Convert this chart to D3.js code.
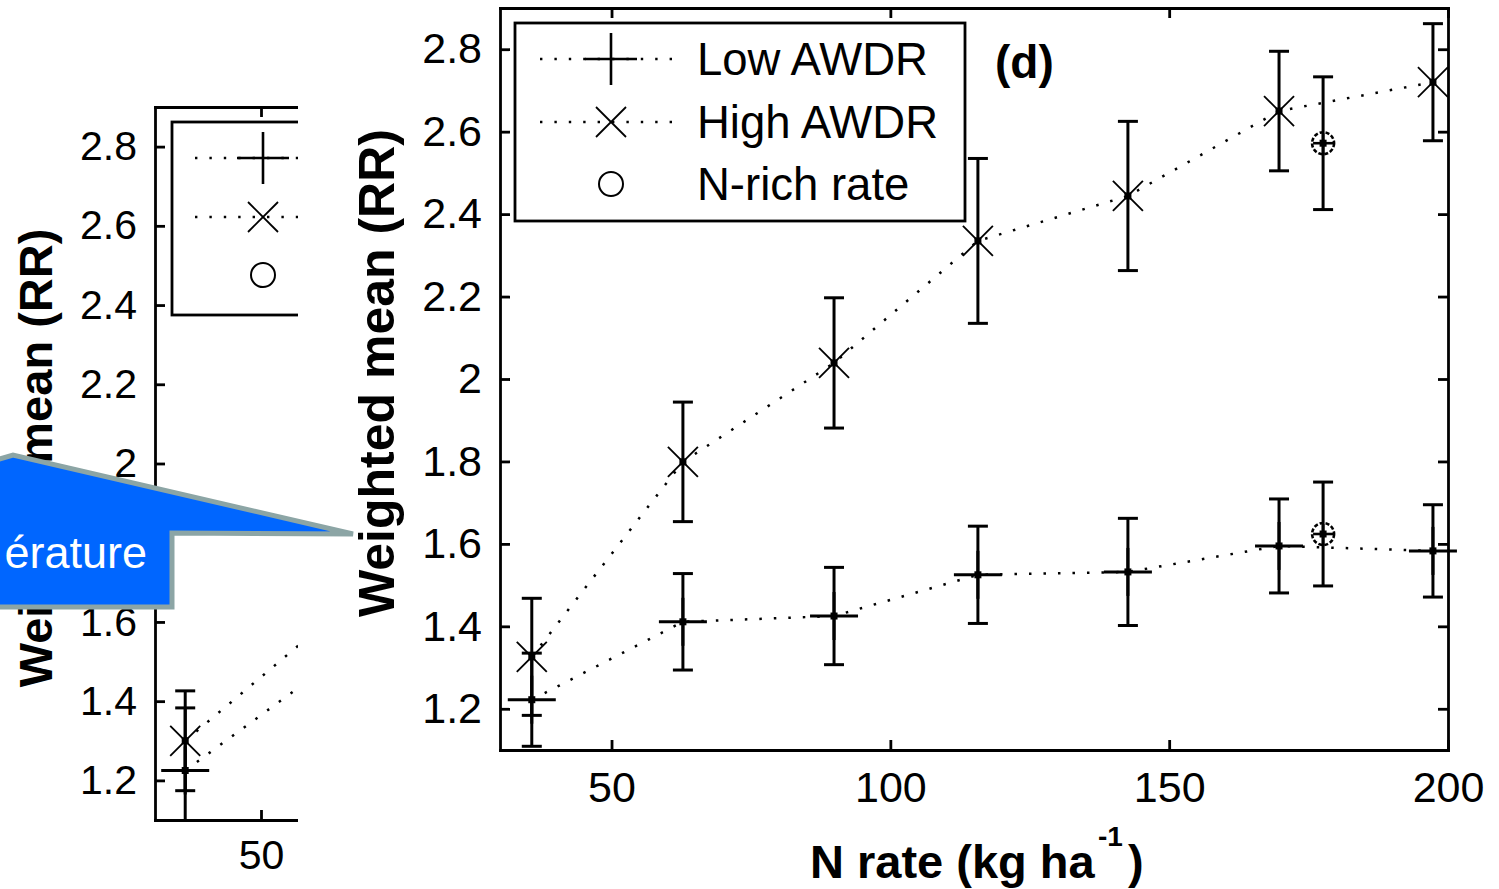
<!DOCTYPE html>
<html>
<head>
<meta charset="utf-8">
<script src="https://cdn.jsdelivr.net/npm/d3@7"></script>
<style>
  body { margin: 0; background: #fff; }
  svg { display: block; }
  text { font-family: "Liberation Sans", Arial, sans-serif; }
</style>
</head>
<body>
<div id="chart"></div>
<script>
// N rates (kg ha-1) of the connected points
const nRates = [35.7, 62.8, 89.9, 115.7, 142.6, 169.7, 197.3];

// panel (d)
const lowMean  = [1.222, 1.411, 1.425, 1.525, 1.532, 1.595, 1.583];
const lowErr   = [0.113, 0.117, 0.118, 0.118, 0.130, 0.114, 0.112];
const highMean = [1.326, 1.799, 2.039, 2.335, 2.444, 2.650, 2.720];
const highErr  = [0.142, 0.145, 0.158, 0.200, 0.181, 0.145, 0.142];

// N-rich rate point
const richRate = 177.6;
const richLowMean = 1.624, richLowErr = 0.126;
const richHighMean = 2.572, richHighErr = 0.161;

// the cropped panel on the left (only the start is visible)
const leftRates = [35.7, 62.8];
const leftLowMean  = [1.225, 1.490];
const leftLowErr   = [0.158, 0.120];
const leftHighMean = [1.300, 1.605];
const leftHighErr  = [0.126, 0.130];

const xTicks = [50, 100, 150, 200];
const yTicks = [1.2, 1.4, 1.6, 1.8, 2.0, 2.2, 2.4, 2.6, 2.8];
const legendLabels = ['Low AWDR', 'High AWDR', 'N-rich rate'];

const W = 1499, H = 889;
const svg = d3.select('#chart').append('svg')
  .attr('width', W)
  .attr('height', H);

svg.append('rect').attr('width', W).attr('height', H).attr('fill', '#fff');

const zip = (n, m, e) => n.map((v, i) => ({ n: v, v: m[i], e: e[i] }));
let clipCount = 0;

function drawPanel(root, cfg) {
  const x = d3.scaleLinear().domain([30, 200]).range([cfg.left, cfg.right]);
  const y = d3.scaleLinear().domain([1.1, 2.9]).range([cfg.bottom, cfg.top]);
  const g = root.append('g');
  const fmt = d => (cfg.hideY || []).includes(d) ? '' : String(+d.toFixed(1));
  // only the x ticks inside the visible part of the panel
  const xt = xTicks.filter(d => x(d) <= (cfg.maxX || Infinity));

  // box with inward ticks on all four sides
  g.append('g')
    .attr('transform', `translate(0, ${cfg.bottom})`)
    .call(d3.axisBottom(x).tickValues(xt).tickSizeInner(-10).tickSizeOuter(0)
      .tickPadding(cfg.xPad).tickFormat(d3.format('d')));
  g.append('g')
    .attr('transform', `translate(0, ${cfg.top})`)
    .call(d3.axisTop(x).tickValues(xt).tickSizeInner(-10).tickSizeOuter(0).tickFormat(''));
  g.append('g')
    .attr('transform', `translate(${cfg.left}, 0)`)
    .call(d3.axisLeft(y).tickValues(yTicks).tickSizeInner(-10).tickSizeOuter(0)
      .tickPadding(cfg.yPad).tickFormat(fmt));
  g.append('g')
    .attr('transform', `translate(${cfg.right}, 0)`)
    .call(d3.axisRight(y).tickValues(yTicks).tickSizeInner(-10).tickSizeOuter(0).tickFormat(''));

  g.selectAll('.domain').attr('stroke', '#000').attr('stroke-width', 2.8).attr('stroke-linecap', 'square');
  g.selectAll('.tick line').attr('stroke', '#000').attr('stroke-width', 2.8);
  g.selectAll('.tick text')
    .attr('font-family', '"Liberation Sans", Arial, sans-serif')
    .attr('font-size', cfg.tickFont)
    .attr('fill', '#000');
  g.selectAll('.tick text').filter(function () { return this.textContent === ''; }).remove();

  // legend
  const lg = g.append('g');
  lg.append('rect')
    .attr('x', cfg.leg.x).attr('y', cfg.leg.y)
    .attr('width', cfg.leg.w).attr('height', cfg.leg.h)
    .attr('fill', '#fff').attr('stroke', '#000').attr('stroke-width', 2.8);
  cfg.leg.rows.forEach((ry, i) => {
    if (i < 2) {
      lg.append('line')
        .attr('x1', cfg.leg.lineX[0]).attr('x2', cfg.leg.lineX[1])
        .attr('y1', ry).attr('y2', ry)
        .attr('stroke', '#000').attr('stroke-width', 2.4).attr('stroke-dasharray', '2.4 12');
    }
    const mx = cfg.leg.markX;
    if (i === 0) plus(lg, mx, ry, 26, 2.6);
    if (i === 1) cross(lg, mx, ry, 15);
    if (i === 2) lg.append('circle').attr('cx', mx).attr('cy', ry).attr('r', 12)
      .attr('fill', 'none').attr('stroke', '#000').attr('stroke-width', 2);
    if (cfg.leg.textX) {
      lg.append('text')
        .attr('x', cfg.leg.textX).attr('y', ry + 16)
        .attr('font-size', cfg.leg.font)
        .text(legendLabels[i]);
    }
  });

  // data layer, optionally clipped to the axes
  let dg = g.append('g');
  if (cfg.clipData) {
    const id = 'dataClip' + (clipCount++);
    g.append('clipPath').attr('id', id).append('rect')
      .attr('x', cfg.left).attr('y', cfg.top)
      .attr('width', cfg.right - cfg.left).attr('height', cfg.bottom - cfg.top);
    dg.attr('clip-path', `url(#${id})`);
  }

  // dotted connecting lines
  const line = d3.line().x(d => x(d.n)).y(d => y(d.v));
  [cfg.high, cfg.low].forEach(s => {
    dg.append('path').datum(s)
      .attr('d', line)
      .attr('fill', 'none')
      .attr('stroke', '#000')
      .attr('stroke-width', 2.5)
      .attr('stroke-dasharray', '2.5 12');
  });

  // error bars and markers
  const errBar = (d) => {
    const cx = x(d.n);
    dg.append('line').attr('x1', cx).attr('x2', cx).attr('y1', y(d.v - d.e)).attr('y2', y(d.v + d.e))
      .attr('stroke', '#000').attr('stroke-width', 3);
    [d.v - d.e, d.v + d.e].forEach(v => {
      dg.append('line').attr('x1', cx - 10).attr('x2', cx + 10).attr('y1', y(v)).attr('y2', y(v))
        .attr('stroke', '#000').attr('stroke-width', 3);
    });
  };
  const dot = (d) => dg.append('rect')
    .attr('x', x(d.n) - 3.5).attr('y', y(d.v) - 3.5).attr('width', 7).attr('height', 7).attr('fill', '#000');

  cfg.high.forEach(d => { errBar(d); cross(dg, x(d.n), y(d.v), 15); dot(d); });
  cfg.low.forEach(d => { errBar(d); plus(dg, x(d.n), y(d.v), 24, 3); dot(d); });

  (cfg.rich || []).forEach(d => {
    errBar(d);
    dg.append('circle').attr('cx', x(d.n)).attr('cy', y(d.v)).attr('r', 11)
      .attr('fill', 'none').attr('stroke', '#000').attr('stroke-width', 2.6)
      .attr('stroke-dasharray', '4 2');
    plus(dg, x(d.n), y(d.v), 10, 2.6);
    dot(d);
  });
  return g;
}

function plus(g, cx, cy, r, sw) {
  g.append('line').attr('x1', cx - r).attr('x2', cx + r).attr('y1', cy).attr('y2', cy)
    .attr('stroke', '#000').attr('stroke-width', sw);
  g.append('line').attr('x1', cx).attr('x2', cx).attr('y1', cy - r).attr('y2', cy + r)
    .attr('stroke', '#000').attr('stroke-width', sw);
}

function cross(g, cx, cy, r) {
  g.append('line').attr('x1', cx - r).attr('x2', cx + r).attr('y1', cy - r).attr('y2', cy + r)
    .attr('stroke', '#000').attr('stroke-width', 1.8);
  g.append('line').attr('x1', cx - r).attr('x2', cx + r).attr('y1', cy + r).attr('y2', cy - r)
    .attr('stroke', '#000').attr('stroke-width', 1.8);
}

// ---- left (cropped) panel ----
svg.append('clipPath').attr('id', 'leftClip')
  .append('rect').attr('x', 0).attr('y', 0).attr('width', 298).attr('height', H);
const leftRoot = svg.append('g').attr('clip-path', 'url(#leftClip)');

drawPanel(leftRoot, {
  left: 155, right: 1056, top: 107, bottom: 820, maxX: 298,
  xPad: 20, yPad: 18, tickFont: 41, clipData: true, hideY: [1.8],
  leg: { x: 172, y: 122, w: 560, h: 193, rows: [158, 217, 275], markX: 263, lineX: [195, 340] },
  low: zip(leftRates, leftLowMean, leftLowErr),
  high: zip(leftRates, leftHighMean, leftHighErr)
});

leftRoot.append('text')
  .attr('transform', 'translate(52, 458) rotate(-90)')
  .attr('text-anchor', 'middle')
  .attr('font-size', 47)
  .attr('font-weight', 'bold')
  .text('Weighted mean (RR)');

// ---- main panel (d) ----
const mainRoot = svg.append('g');
drawPanel(mainRoot, {
  left: 500, right: 1448, top: 8, bottom: 750,
  xPad: 21, yPad: 18, tickFont: 43,
  leg: { x: 515, y: 23, w: 450, h: 198, rows: [59, 122, 184], markX: 611, lineX: [540, 680], textX: 697, font: 45.5 },
  low: zip(nRates, lowMean, lowErr),
  high: zip(nRates, highMean, highErr),
  rich: [{ n: richRate, v: richLowMean, e: richLowErr }, { n: richRate, v: richHighMean, e: richHighErr }]
});

mainRoot.append('text')
  .attr('x', 995).attr('y', 78)
  .attr('font-size', 46)
  .attr('font-weight', 'bold')
  .text('(d)');

mainRoot.append('text')
  .attr('transform', 'translate(394, 373) rotate(-90)')
  .attr('text-anchor', 'middle')
  .attr('font-size', 50)
  .attr('font-weight', 'bold')
  .text('Weighted mean (RR)');

// x label with its superscript as separate pieces
mainRoot.append('text')
  .attr('x', 810).attr('y', 878)
  .attr('font-size', 47)
  .attr('font-weight', 'bold')
  .text('N rate (kg ha');
mainRoot.append('text')
  .attr('x', 1098).attr('y', 846)
  .attr('font-size', 28)
  .attr('font-weight', 'bold')
  .text('-1');
mainRoot.append('text')
  .attr('x', 1128).attr('y', 878)
  .attr('font-size', 47)
  .attr('font-weight', 'bold')
  .text(')');

// ---- blue callout ----
svg.append('polygon')
  .attr('points', [[-30, 468], [13, 455], [353, 534], [172, 533], [172, 607], [-30, 607]].join(' '))
  .attr('fill', '#0066ff')
  .attr('stroke', '#8ca5a5')
  .attr('stroke-width', 5)
  .attr('stroke-linejoin', 'miter');

svg.append('text')
  .attr('x', 147).attr('y', 568)
  .attr('text-anchor', 'end')
  .attr('font-size', 45)
  .attr('fill', '#fff')
  .text('érature');
</script>
</body>
</html>
